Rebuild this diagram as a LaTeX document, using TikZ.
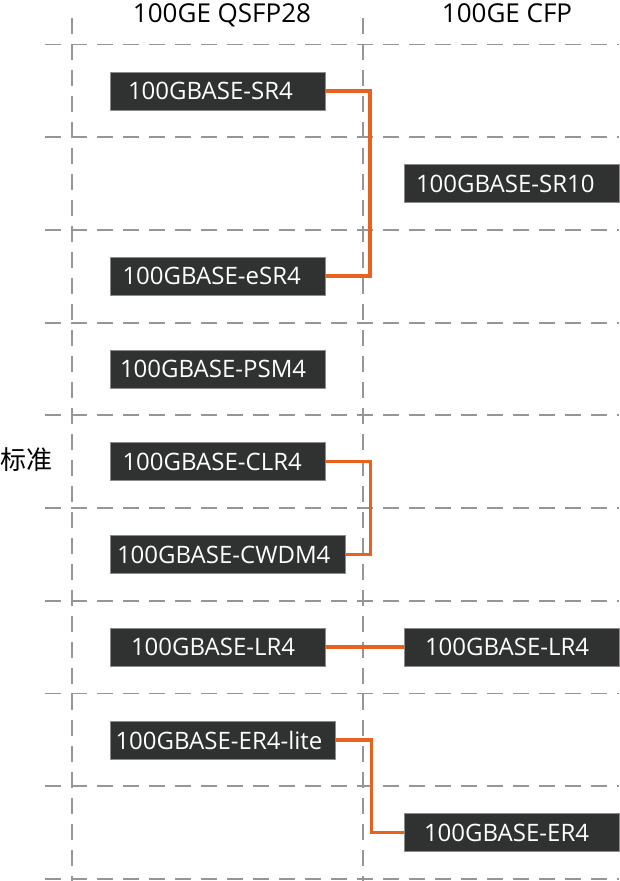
\documentclass[tikz,border=0pt]{standalone}
\usepackage{fontspec}
\setmainfont{Open Sans}
\newfontfamily\cjkfont{Noto Sans CJK SC}
\definecolor{gridgray}{HTML}{969696}
\definecolor{portfill}{HTML}{2F3231}
\definecolor{portline}{HTML}{8C8C8C}
\definecolor{linkorange}{HTML}{E8621E}

\begin{document}
\begin{tikzpicture}[x=1pt, y=-1pt,
    gridline/.style={draw=gridgray, line width=1.8pt, dash pattern=on 16pt off 10pt},
    port/.style={fill=portfill, draw=portline, line width=0.8pt, text=white, anchor=west,
        align=left, minimum height=38pt, inner ysep=0pt, outer sep=0pt,
        font=\fontsize{24}{28}\selectfont},
    link/.style={draw=linkorange, line width=3.5pt},
    colhead/.style={anchor=base, font=\fontsize{26}{30}\selectfont}]
    \useasboundingbox (0,0) rectangle (619,881);
    \foreach \k in {0,...,9}
        \draw[gridline] (45,{44.5+92.7*\k}) -- (619,{44.5+92.7*\k});
    \draw[gridline] (72,18) -- (72,881);
    \draw[gridline] (363,18) -- (363,881);

    \node[colhead] (qsfp) at (222,22.7) {100GE QSFP28};
    \node[colhead] (cfp) at (507,22.7) {100GE CFP};
    \node[anchor=west, inner sep=0pt, font=\cjkfont\fontsize{26}{30}\selectfont] (std) at (0,460) {标准};

    \node[port, inner xsep=18pt, text width=179pt] (sr4) at (110,91) {100GBASE-SR4};
    \node[port, inner xsep=12.5pt, text width=190pt] (esr4) at (110,276) {100GBASE-eSR4};
    \node[port, inner xsep=10pt, text width=195pt] (psm4) at (110,369) {100GBASE-PSM4};
    \node[port, inner xsep=12.5pt, text width=190pt] (clr4) at (110,461.5) {100GBASE-CLR4};
    \node[port, inner xsep=7pt, text width=221.7pt] (cwdm4) at (110,554.5) {100GBASE-CWDM4};
    \node[port, inner xsep=21pt, text width=173pt] (lr4a) at (110,647) {100GBASE-LR4};
    \node[port, inner xsep=5.5pt, text width=214pt] (er4lite) at (110,740) {100GBASE-ER4-lite};

    \node[port, inner xsep=12pt, text width=191pt] (sr10) at (404,183.5) {100GBASE-SR10};
    \node[port, inner xsep=21pt, text width=173pt] (lr4b) at (404,647) {100GBASE-LR4};
    \node[port, inner xsep=20pt, text width=175pt] (er4) at (404,832.5) {100GBASE-ER4};

    \draw[link] (sr4.east) -- ++(45,0) |- (esr4.east);
    \draw[link] (clr4.east) -- ++(45.5,0) |- (cwdm4.east);
    \draw[link] (lr4a.east) -- (lr4b.west);
    \draw[link] (er4lite.east) -- ++(36.5,0) |- (er4.west);
\end{tikzpicture}
\end{document}
